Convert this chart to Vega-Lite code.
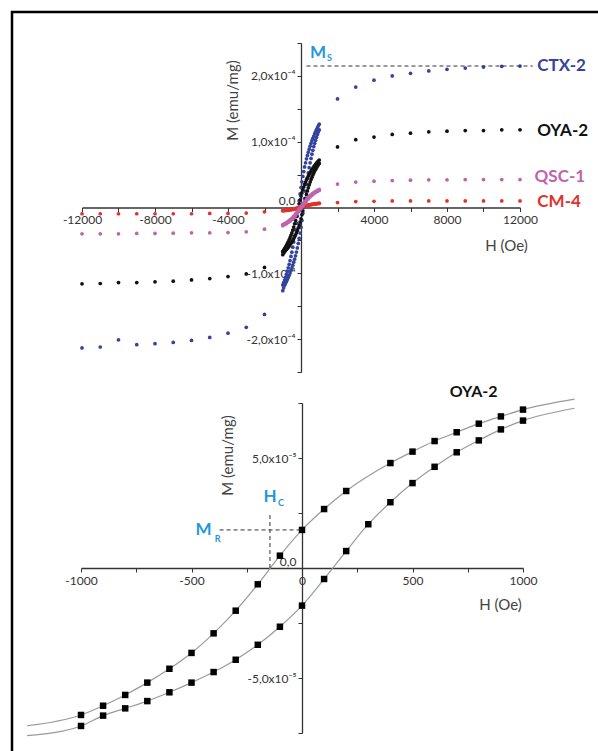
{
"$schema": "https://vega.github.io/schema/vega-lite/v6.json",
"width": 598, "height": 751,
"autosize": {"type": "fit", "contains": "padding"},
"padding": {"left": 12, "top": 12, "right": 0, "bottom": 0},
"background": "white",
"config": {
 "font": "Lato",
 "view": {"stroke": "#000", "strokeWidth": 2.5, "strokeDash": [586, 1325, 739]},
 "axis": {"grid": false, "domainColor": "#333", "domainWidth": 1.3, "tickColor": "#333", "tickWidth": 1, "tickSize": 4, "labelColor": "#333", "labelFontSize": 12, "labelPadding": 2, "titleColor": "#444", "titleFontSize": 15, "titleFontWeight": "normal", "labelFlush": false, "labelOverlap": false}
},
"datasets": {
 "top": [
  {"s":"CTX-2","h":-12000,"m":-2.135e-4},{"s":"CTX-2","h":-11000,"m":-2.12e-4},{"s":"CTX-2","h":-10000,"m":-2.01e-4},{"s":"CTX-2","h":-9000,"m":-2.085e-4},{"s":"CTX-2","h":-8000,"m":-2.07e-4},{"s":"CTX-2","h":-7000,"m":-2.05e-4},{"s":"CTX-2","h":-6000,"m":-2.02e-4},{"s":"CTX-2","h":-5000,"m":-1.975e-4},{"s":"CTX-2","h":-4000,"m":-1.91e-4},{"s":"CTX-2","h":-3000,"m":-1.82e-4},{"s":"CTX-2","h":-2000,"m":-1.625e-4},
  {"s":"CTX-2","h":2000,"m":1.65e-4},{"s":"CTX-2","h":3000,"m":1.83e-4},{"s":"CTX-2","h":4000,"m":1.935e-4},{"s":"CTX-2","h":5000,"m":2.0e-4},{"s":"CTX-2","h":6000,"m":2.04e-4},{"s":"CTX-2","h":7000,"m":2.075e-4},{"s":"CTX-2","h":8000,"m":2.1e-4},{"s":"CTX-2","h":9000,"m":2.12e-4},{"s":"CTX-2","h":10000,"m":2.135e-4},{"s":"CTX-2","h":11000,"m":2.145e-4},{"s":"CTX-2","h":12000,"m":2.15e-4},
  {"s":"CTX-2","h":-1000,"m":-1.176e-4},{"s":"CTX-2","h":-950,"m":-1.14e-4},{"s":"CTX-2","h":-900,"m":-1.102e-4},{"s":"CTX-2","h":-850,"m":-1.061e-4},{"s":"CTX-2","h":-800,"m":-1.016e-4},{"s":"CTX-2","h":-750,"m":-0.968e-4},{"s":"CTX-2","h":-700,"m":-0.917e-4},{"s":"CTX-2","h":-650,"m":-0.864e-4},{"s":"CTX-2","h":-600,"m":-0.806e-4},{"s":"CTX-2","h":-550,"m":-0.744e-4},{"s":"CTX-2","h":-500,"m":-0.679e-4},{"s":"CTX-2","h":-450,"m":-0.604e-4},{"s":"CTX-2","h":-400,"m":-0.523e-4},{"s":"CTX-2","h":-350,"m":-0.435e-4},{"s":"CTX-2","h":-300,"m":-0.341e-4},{"s":"CTX-2","h":-250,"m":-0.239e-4},{"s":"CTX-2","h":-200,"m":-0.13e-4},{"s":"CTX-2","h":-150,"m":-0.018e-4},{"s":"CTX-2","h":-100,"m":0.099e-4},{"s":"CTX-2","h":-50,"m":0.206e-4},{"s":"CTX-2","h":0,"m":0.304e-4},{"s":"CTX-2","h":50,"m":0.391e-4},{"s":"CTX-2","h":100,"m":0.472e-4},{"s":"CTX-2","h":150,"m":0.546e-4},{"s":"CTX-2","h":200,"m":0.616e-4},{"s":"CTX-2","h":250,"m":0.679e-4},{"s":"CTX-2","h":300,"m":0.739e-4},{"s":"CTX-2","h":350,"m":0.792e-4},{"s":"CTX-2","h":400,"m":0.84e-4},{"s":"CTX-2","h":450,"m":0.887e-4},{"s":"CTX-2","h":500,"m":0.931e-4},{"s":"CTX-2","h":550,"m":0.975e-4},{"s":"CTX-2","h":600,"m":1.016e-4},{"s":"CTX-2","h":650,"m":1.052e-4},{"s":"CTX-2","h":700,"m":1.086e-4},{"s":"CTX-2","h":750,"m":1.121e-4},{"s":"CTX-2","h":800,"m":1.155e-4},{"s":"CTX-2","h":850,"m":1.184e-4},{"s":"CTX-2","h":900,"m":1.213e-4},{"s":"CTX-2","h":950,"m":1.241e-4},{"s":"CTX-2","h":1000,"m":1.267e-4},
  {"s":"CTX-2","h":-1000,"m":-1.264e-4},{"s":"CTX-2","h":-950,"m":-1.22e-4},{"s":"CTX-2","h":-900,"m":-1.181e-4},{"s":"CTX-2","h":-850,"m":-1.153e-4},{"s":"CTX-2","h":-800,"m":-1.123e-4},{"s":"CTX-2","h":-750,"m":-1.095e-4},{"s":"CTX-2","h":-700,"m":-1.065e-4},{"s":"CTX-2","h":-650,"m":-1.031e-4},{"s":"CTX-2","h":-600,"m":-0.994e-4},{"s":"CTX-2","h":-550,"m":-0.957e-4},{"s":"CTX-2","h":-500,"m":-0.917e-4},{"s":"CTX-2","h":-450,"m":-0.876e-4},{"s":"CTX-2","h":-400,"m":-0.832e-4},{"s":"CTX-2","h":-350,"m":-0.785e-4},{"s":"CTX-2","h":-300,"m":-0.734e-4},{"s":"CTX-2","h":-250,"m":-0.678e-4},{"s":"CTX-2","h":-200,"m":-0.614e-4},{"s":"CTX-2","h":-150,"m":-0.546e-4},{"s":"CTX-2","h":-100,"m":-0.47e-4},{"s":"CTX-2","h":-50,"m":-0.389e-4},{"s":"CTX-2","h":0,"m":-0.301e-4},{"s":"CTX-2","h":50,"m":-0.197e-4},{"s":"CTX-2","h":100,"m":-0.088e-4},{"s":"CTX-2","h":150,"m":0.023e-4},{"s":"CTX-2","h":200,"m":0.136e-4},{"s":"CTX-2","h":250,"m":0.246e-4},{"s":"CTX-2","h":300,"m":0.35e-4},{"s":"CTX-2","h":350,"m":0.444e-4},{"s":"CTX-2","h":400,"m":0.526e-4},{"s":"CTX-2","h":450,"m":0.605e-4},{"s":"CTX-2","h":500,"m":0.679e-4},{"s":"CTX-2","h":550,"m":0.746e-4},{"s":"CTX-2","h":600,"m":0.81e-4},{"s":"CTX-2","h":650,"m":0.869e-4},{"s":"CTX-2","h":700,"m":0.926e-4},{"s":"CTX-2","h":750,"m":0.975e-4},{"s":"CTX-2","h":800,"m":1.021e-4},{"s":"CTX-2","h":850,"m":1.067e-4},{"s":"CTX-2","h":900,"m":1.109e-4},{"s":"CTX-2","h":950,"m":1.146e-4},{"s":"CTX-2","h":1000,"m":1.179e-4},
  {"s":"OYA-2","h":-12000,"m":-1.16e-4},{"s":"OYA-2","h":-11000,"m":-1.155e-4},{"s":"OYA-2","h":-10000,"m":-1.14e-4},{"s":"OYA-2","h":-9000,"m":-1.14e-4},{"s":"OYA-2","h":-8000,"m":-1.13e-4},{"s":"OYA-2","h":-7000,"m":-1.12e-4},{"s":"OYA-2","h":-6000,"m":-1.1e-4},{"s":"OYA-2","h":-5000,"m":-1.08e-4},{"s":"OYA-2","h":-4000,"m":-1.05e-4},{"s":"OYA-2","h":-3000,"m":-1.01e-4},{"s":"OYA-2","h":-2000,"m":-0.91e-4},
  {"s":"OYA-2","h":2000,"m":0.92e-4},{"s":"OYA-2","h":3000,"m":1.03e-4},{"s":"OYA-2","h":4000,"m":1.07e-4},{"s":"OYA-2","h":5000,"m":1.11e-4},{"s":"OYA-2","h":6000,"m":1.13e-4},{"s":"OYA-2","h":7000,"m":1.15e-4},{"s":"OYA-2","h":8000,"m":1.16e-4},{"s":"OYA-2","h":9000,"m":1.17e-4},{"s":"OYA-2","h":10000,"m":1.17e-4},{"s":"OYA-2","h":11000,"m":1.18e-4},{"s":"OYA-2","h":12000,"m":1.18e-4},
  {"s":"OYA-2","h":-1000,"m":-6.68e-5},{"s":"OYA-2","h":-950,"m":-6.48e-5},{"s":"OYA-2","h":-900,"m":-6.26e-5},{"s":"OYA-2","h":-850,"m":-6.03e-5},{"s":"OYA-2","h":-800,"m":-5.77e-5},{"s":"OYA-2","h":-750,"m":-5.5e-5},{"s":"OYA-2","h":-700,"m":-5.21e-5},{"s":"OYA-2","h":-650,"m":-4.91e-5},{"s":"OYA-2","h":-600,"m":-4.58e-5},{"s":"OYA-2","h":-550,"m":-4.23e-5},{"s":"OYA-2","h":-500,"m":-3.86e-5},{"s":"OYA-2","h":-450,"m":-3.43e-5},{"s":"OYA-2","h":-400,"m":-2.97e-5},{"s":"OYA-2","h":-350,"m":-2.47e-5},{"s":"OYA-2","h":-300,"m":-1.94e-5},{"s":"OYA-2","h":-250,"m":-1.36e-5},{"s":"OYA-2","h":-200,"m":-0.74e-5},{"s":"OYA-2","h":-150,"m":-0.1e-5},{"s":"OYA-2","h":-100,"m":0.56e-5},{"s":"OYA-2","h":-50,"m":1.17e-5},{"s":"OYA-2","h":0,"m":1.73e-5},{"s":"OYA-2","h":50,"m":2.22e-5},{"s":"OYA-2","h":100,"m":2.68e-5},{"s":"OYA-2","h":150,"m":3.1e-5},{"s":"OYA-2","h":200,"m":3.5e-5},{"s":"OYA-2","h":250,"m":3.86e-5},{"s":"OYA-2","h":300,"m":4.2e-5},{"s":"OYA-2","h":350,"m":4.5e-5},{"s":"OYA-2","h":400,"m":4.77e-5},{"s":"OYA-2","h":450,"m":5.04e-5},{"s":"OYA-2","h":500,"m":5.29e-5},{"s":"OYA-2","h":550,"m":5.54e-5},{"s":"OYA-2","h":600,"m":5.77e-5},{"s":"OYA-2","h":650,"m":5.98e-5},{"s":"OYA-2","h":700,"m":6.17e-5},{"s":"OYA-2","h":750,"m":6.37e-5},{"s":"OYA-2","h":800,"m":6.56e-5},{"s":"OYA-2","h":850,"m":6.73e-5},{"s":"OYA-2","h":900,"m":6.89e-5},{"s":"OYA-2","h":950,"m":7.05e-5},{"s":"OYA-2","h":1000,"m":7.2e-5},
  {"s":"OYA-2","h":-1000,"m":-7.18e-5},{"s":"OYA-2","h":-950,"m":-6.93e-5},{"s":"OYA-2","h":-900,"m":-6.71e-5},{"s":"OYA-2","h":-850,"m":-6.55e-5},{"s":"OYA-2","h":-800,"m":-6.38e-5},{"s":"OYA-2","h":-750,"m":-6.22e-5},{"s":"OYA-2","h":-700,"m":-6.05e-5},{"s":"OYA-2","h":-650,"m":-5.86e-5},{"s":"OYA-2","h":-600,"m":-5.65e-5},{"s":"OYA-2","h":-550,"m":-5.44e-5},{"s":"OYA-2","h":-500,"m":-5.21e-5},{"s":"OYA-2","h":-450,"m":-4.98e-5},{"s":"OYA-2","h":-400,"m":-4.73e-5},{"s":"OYA-2","h":-350,"m":-4.46e-5},{"s":"OYA-2","h":-300,"m":-4.17e-5},{"s":"OYA-2","h":-250,"m":-3.85e-5},{"s":"OYA-2","h":-200,"m":-3.49e-5},{"s":"OYA-2","h":-150,"m":-3.1e-5},{"s":"OYA-2","h":-100,"m":-2.67e-5},{"s":"OYA-2","h":-50,"m":-2.21e-5},{"s":"OYA-2","h":0,"m":-1.71e-5},{"s":"OYA-2","h":50,"m":-1.12e-5},{"s":"OYA-2","h":100,"m":-0.5e-5},{"s":"OYA-2","h":150,"m":0.13e-5},{"s":"OYA-2","h":200,"m":0.77e-5},{"s":"OYA-2","h":250,"m":1.4e-5},{"s":"OYA-2","h":300,"m":1.99e-5},{"s":"OYA-2","h":350,"m":2.52e-5},{"s":"OYA-2","h":400,"m":2.99e-5},{"s":"OYA-2","h":450,"m":3.44e-5},{"s":"OYA-2","h":500,"m":3.86e-5},{"s":"OYA-2","h":550,"m":4.24e-5},{"s":"OYA-2","h":600,"m":4.6e-5},{"s":"OYA-2","h":650,"m":4.94e-5},{"s":"OYA-2","h":700,"m":5.26e-5},{"s":"OYA-2","h":750,"m":5.54e-5},{"s":"OYA-2","h":800,"m":5.8e-5},{"s":"OYA-2","h":850,"m":6.06e-5},{"s":"OYA-2","h":900,"m":6.3e-5},{"s":"OYA-2","h":950,"m":6.51e-5},{"s":"OYA-2","h":1000,"m":6.7e-5},
  {"s":"CM-4","h":-12000,"m":-0.095e-4},{"s":"CM-4","h":-11000,"m":-0.095e-4},{"s":"CM-4","h":-10000,"m":-0.095e-4},{"s":"CM-4","h":-9000,"m":-0.095e-4},{"s":"CM-4","h":-8000,"m":-0.095e-4},{"s":"CM-4","h":-7000,"m":-0.095e-4},{"s":"CM-4","h":-6000,"m":-0.095e-4},{"s":"CM-4","h":-5000,"m":-0.09e-4},{"s":"CM-4","h":-4000,"m":-0.09e-4},{"s":"CM-4","h":-3000,"m":-0.085e-4},{"s":"CM-4","h":-2000,"m":-0.065e-4},
  {"s":"CM-4","h":2000,"m":0.075e-4},{"s":"CM-4","h":3000,"m":0.09e-4},{"s":"CM-4","h":4000,"m":0.095e-4},{"s":"CM-4","h":5000,"m":0.1e-4},{"s":"CM-4","h":6000,"m":0.1e-4},{"s":"CM-4","h":7000,"m":0.1e-4},{"s":"CM-4","h":8000,"m":0.1e-4},{"s":"CM-4","h":9000,"m":0.1e-4},{"s":"CM-4","h":10000,"m":0.1e-4},{"s":"CM-4","h":11000,"m":0.1e-4},{"s":"CM-4","h":12000,"m":0.1e-4},
  {"s":"CM-4","h":-1000,"m":-0.045e-4},{"s":"CM-4","h":-900,"m":-0.043e-4},{"s":"CM-4","h":-800,"m":-0.04e-4},{"s":"CM-4","h":-700,"m":-0.037e-4},{"s":"CM-4","h":-600,"m":-0.033e-4},{"s":"CM-4","h":-500,"m":-0.028e-4},{"s":"CM-4","h":-400,"m":-0.022e-4},{"s":"CM-4","h":-300,"m":-0.014e-4},{"s":"CM-4","h":-200,"m":-0.005e-4},{"s":"CM-4","h":-100,"m":0.004e-4},{"s":"CM-4","h":0,"m":0.012e-4},{"s":"CM-4","h":100,"m":0.02e-4},{"s":"CM-4","h":200,"m":0.028e-4},{"s":"CM-4","h":300,"m":0.034e-4},{"s":"CM-4","h":400,"m":0.04e-4},{"s":"CM-4","h":500,"m":0.045e-4},{"s":"CM-4","h":600,"m":0.05e-4},{"s":"CM-4","h":700,"m":0.054e-4},{"s":"CM-4","h":800,"m":0.058e-4},{"s":"CM-4","h":900,"m":0.062e-4},{"s":"CM-4","h":1000,"m":0.065e-4},
  {"s":"CM-4","h":-1000,"m":-0.05e-4},{"s":"CM-4","h":-900,"m":-0.048e-4},{"s":"CM-4","h":-800,"m":-0.045e-4},{"s":"CM-4","h":-700,"m":-0.042e-4},{"s":"CM-4","h":-600,"m":-0.038e-4},{"s":"CM-4","h":-500,"m":-0.034e-4},{"s":"CM-4","h":-400,"m":-0.028e-4},{"s":"CM-4","h":-300,"m":-0.021e-4},{"s":"CM-4","h":-200,"m":-0.013e-4},{"s":"CM-4","h":-100,"m":-0.004e-4},{"s":"CM-4","h":0,"m":0.005e-4},{"s":"CM-4","h":100,"m":0.013e-4},{"s":"CM-4","h":200,"m":0.021e-4},{"s":"CM-4","h":300,"m":0.028e-4},{"s":"CM-4","h":400,"m":0.034e-4},{"s":"CM-4","h":500,"m":0.039e-4},{"s":"CM-4","h":600,"m":0.044e-4},{"s":"CM-4","h":700,"m":0.049e-4},{"s":"CM-4","h":800,"m":0.053e-4},{"s":"CM-4","h":900,"m":0.057e-4},{"s":"CM-4","h":1000,"m":0.06e-4},
  {"s":"QSC-1","h":-12000,"m":-0.4e-4},{"s":"QSC-1","h":-11000,"m":-0.4e-4},{"s":"QSC-1","h":-10000,"m":-0.4e-4},{"s":"QSC-1","h":-9000,"m":-0.395e-4},{"s":"QSC-1","h":-8000,"m":-0.395e-4},{"s":"QSC-1","h":-7000,"m":-0.39e-4},{"s":"QSC-1","h":-6000,"m":-0.385e-4},{"s":"QSC-1","h":-5000,"m":-0.385e-4},{"s":"QSC-1","h":-4000,"m":-0.38e-4},{"s":"QSC-1","h":-3000,"m":-0.37e-4},{"s":"QSC-1","h":-2000,"m":-0.33e-4},
  {"s":"QSC-1","h":2000,"m":0.356e-4},{"s":"QSC-1","h":3000,"m":0.386e-4},{"s":"QSC-1","h":4000,"m":0.4e-4},{"s":"QSC-1","h":5000,"m":0.41e-4},{"s":"QSC-1","h":6000,"m":0.416e-4},{"s":"QSC-1","h":7000,"m":0.42e-4},{"s":"QSC-1","h":8000,"m":0.42e-4},{"s":"QSC-1","h":9000,"m":0.425e-4},{"s":"QSC-1","h":10000,"m":0.425e-4},{"s":"QSC-1","h":11000,"m":0.425e-4},{"s":"QSC-1","h":12000,"m":0.425e-4},
  {"s":"QSC-1","h":-1000,"m":-0.26e-4},{"s":"QSC-1","h":-900,"m":-0.245e-4},{"s":"QSC-1","h":-800,"m":-0.228e-4},{"s":"QSC-1","h":-700,"m":-0.208e-4},{"s":"QSC-1","h":-600,"m":-0.186e-4},{"s":"QSC-1","h":-500,"m":-0.16e-4},{"s":"QSC-1","h":-400,"m":-0.13e-4},{"s":"QSC-1","h":-300,"m":-0.097e-4},{"s":"QSC-1","h":-200,"m":-0.06e-4},{"s":"QSC-1","h":-100,"m":-0.02e-4},{"s":"QSC-1","h":0,"m":0.02e-4},{"s":"QSC-1","h":100,"m":0.058e-4},{"s":"QSC-1","h":200,"m":0.095e-4},{"s":"QSC-1","h":300,"m":0.128e-4},{"s":"QSC-1","h":400,"m":0.158e-4},{"s":"QSC-1","h":500,"m":0.185e-4},{"s":"QSC-1","h":600,"m":0.208e-4},{"s":"QSC-1","h":700,"m":0.228e-4},{"s":"QSC-1","h":800,"m":0.246e-4},{"s":"QSC-1","h":900,"m":0.262e-4},{"s":"QSC-1","h":1000,"m":0.276e-4},
  {"s":"QSC-1","h":-1000,"m":-0.276e-4},{"s":"QSC-1","h":-900,"m":-0.262e-4},{"s":"QSC-1","h":-800,"m":-0.246e-4},{"s":"QSC-1","h":-700,"m":-0.228e-4},{"s":"QSC-1","h":-600,"m":-0.208e-4},{"s":"QSC-1","h":-500,"m":-0.185e-4},{"s":"QSC-1","h":-400,"m":-0.158e-4},{"s":"QSC-1","h":-300,"m":-0.128e-4},{"s":"QSC-1","h":-200,"m":-0.095e-4},{"s":"QSC-1","h":-100,"m":-0.058e-4},{"s":"QSC-1","h":0,"m":-0.02e-4},{"s":"QSC-1","h":100,"m":0.02e-4},{"s":"QSC-1","h":200,"m":0.06e-4},{"s":"QSC-1","h":300,"m":0.097e-4},{"s":"QSC-1","h":400,"m":0.13e-4},{"s":"QSC-1","h":500,"m":0.16e-4},{"s":"QSC-1","h":600,"m":0.186e-4},{"s":"QSC-1","h":700,"m":0.208e-4},{"s":"QSC-1","h":800,"m":0.228e-4},{"s":"QSC-1","h":900,"m":0.245e-4},{"s":"QSC-1","h":1000,"m":0.26e-4}
 ],
 "topLabels": [
  {"s":"CTX-2","h":12950,"m":2.15e-4},{"s":"OYA-2","h":12950,"m":1.17e-4},{"s":"QSC-1","h":12800,"m":0.47e-4},{"s":"CM-4","h":12950,"m":0.09e-4}
 ],
 "msLine": [{"h":300,"h2":12700,"m":2.15e-4}],
 "topBig": [{"t":"M","h":932,"m":2.353e-4}],
 "topSub": [{"t":"S","h":1562,"m":2.278e-4}],
 "loop": [
  {"b":"A","kind":"curve end","h":-1244,"m":-7.17e-5},
  {"b":"A","kind":"measured","h":-1000,"m":-6.68e-5},{"b":"A","kind":"measured","h":-900,"m":-6.26e-5},{"b":"A","kind":"measured","h":-800,"m":-5.77e-5},{"b":"A","kind":"measured","h":-700,"m":-5.21e-5},{"b":"A","kind":"measured","h":-600,"m":-4.58e-5},{"b":"A","kind":"measured","h":-500,"m":-3.86e-5},{"b":"A","kind":"measured","h":-400,"m":-2.97e-5},{"b":"A","kind":"measured","h":-300,"m":-1.94e-5},{"b":"A","kind":"measured","h":-200,"m":-0.74e-5},{"b":"A","kind":"measured","h":-100,"m":0.56e-5},{"b":"A","kind":"measured","h":0,"m":1.73e-5},{"b":"A","kind":"measured","h":100,"m":2.68e-5},{"b":"A","kind":"measured","h":200,"m":3.5e-5},{"b":"A","kind":"measured","h":400,"m":4.77e-5},{"b":"A","kind":"measured","h":500,"m":5.29e-5},{"b":"A","kind":"measured","h":600,"m":5.77e-5},{"b":"A","kind":"measured","h":700,"m":6.17e-5},{"b":"A","kind":"measured","h":800,"m":6.56e-5},{"b":"A","kind":"measured","h":900,"m":6.89e-5},{"b":"A","kind":"measured","h":1000,"m":7.2e-5},
  {"b":"A","kind":"curve end","h":1233,"m":7.68e-5},
  {"b":"B","kind":"curve end","h":-1244,"m":-7.62e-5},
  {"b":"B","kind":"measured","h":-1000,"m":-7.18e-5},{"b":"B","kind":"measured","h":-900,"m":-6.71e-5},{"b":"B","kind":"measured","h":-800,"m":-6.38e-5},{"b":"B","kind":"measured","h":-700,"m":-6.05e-5},{"b":"B","kind":"measured","h":-600,"m":-5.65e-5},{"b":"B","kind":"measured","h":-500,"m":-5.21e-5},{"b":"B","kind":"measured","h":-400,"m":-4.73e-5},{"b":"B","kind":"measured","h":-300,"m":-4.17e-5},{"b":"B","kind":"measured","h":-200,"m":-3.49e-5},{"b":"B","kind":"measured","h":-100,"m":-2.67e-5},{"b":"B","kind":"measured","h":0,"m":-1.71e-5},{"b":"B","kind":"measured","h":100,"m":-0.5e-5},{"b":"B","kind":"measured","h":200,"m":0.77e-5},{"b":"B","kind":"measured","h":300,"m":1.99e-5},{"b":"B","kind":"measured","h":400,"m":2.99e-5},{"b":"B","kind":"measured","h":500,"m":3.86e-5},{"b":"B","kind":"measured","h":600,"m":4.6e-5},{"b":"B","kind":"measured","h":700,"m":5.26e-5},{"b":"B","kind":"measured","h":800,"m":5.8e-5},{"b":"B","kind":"measured","h":900,"m":6.3e-5},{"b":"B","kind":"measured","h":1000,"m":6.7e-5},
  {"b":"B","kind":"curve end","h":1233,"m":7.26e-5}
 ],
 "guides": [{"h":-373,"m":1.73e-5,"h2":0,"m2":1.73e-5},{"h":-145,"m":0,"h2":-145,"m2":2.41e-5}],
 "botBig": [{"t":"M","h":-445,"m":1.73e-5},{"t":"H","h":-145,"m":3.23e-5}],
 "botSub": [{"t":"R","h":-382,"m":1.32e-5},{"t":"C","h":-95,"m":2.95e-5}],
 "botTitle": [{"t":"OYA-2","h":777,"m":8.0e-5}]
},
"layer": [
 {
  "layer": [
   {
    "data": {"name": "top"},
    "mark": {"type": "circle", "size": 14, "opacity": 1, "clip": false},
    "encoding": {
     "x": {"field": "h", "type": "quantitative", "scale": {"domain": [-12000, 12000], "range": [70, 508], "nice": false, "zero": false},
      "axis": {"orient": "bottom", "offset": -543.5, "values": [-12000,-10000,-8000,-6000,-4000,-2000,0,2000,4000,6000,8000,10000,12000],
       "labelExpr": "datum.value % 4000 == 0 && datum.value != 0 ? (datum.value < 0 ? '-' : '') + abs(datum.value) : ''",
       "title": "H (Oe)", "titleX": 494, "titleY": 38, "titleAlign": "center", "titleBaseline": "middle", "titleAngle": 0, "labelPadding": 3}},
     "y": {"field": "m", "type": "quantitative", "scale": {"domain": [-2.5e-4, 2.5e-4], "range": [360, 31], "nice": false, "zero": false},
      "axis": {"orient": "left", "offset": -289, "values": [-2.5e-4,-2e-4,-1.5e-4,-1e-4,-5e-5,0,5e-5,1e-4,1.5e-4,2e-4,2.5e-4],
       "labelExpr": "round(datum.value*1e5) % 10 != 0 ? '' : (round(datum.value*1e5) == 0 ? '0,0' : (datum.value < 0 ? '-' : '') + abs(round(datum.value*1e4)) + ',0x10⁻⁴')",
       "labelBaseline": {"condition": {"test": "datum.value == 0", "value": "bottom"}, "value": "middle"},
       "title": "M (emu/mg)", "titleX": -64, "titleY": 88, "titleAngle": -90, "titleAlign": "center", "titleBaseline": "alphabetic"}},
     "color": {"field": "s", "type": "nominal", "scale": {"domain": ["CTX-2","OYA-2","QSC-1","CM-4"], "range": ["#34449e","#111111","#c063ad","#e2302a"]}, "legend": null}
    }
   },
   {
    "data": {"name": "msLine"},
    "mark": {"type": "rule", "strokeDash": [4, 3], "color": "#333", "strokeWidth": 1, "clip": false},
    "encoding": {"x": {"field": "h", "type": "quantitative"}, "x2": {"field": "h2"}, "y": {"field": "m", "type": "quantitative"}}
   },
   {
    "data": {"name": "topLabels"},
    "mark": {"type": "text", "align": "left", "baseline": "middle", "fontWeight": "bold", "fontSize": 17, "clip": false},
    "encoding": {"x": {"field": "h", "type": "quantitative"}, "y": {"field": "m", "type": "quantitative"}, "text": {"field": "s"}, "color": {"field": "s", "type": "nominal", "legend": null}}
   },
   {
    "data": {"name": "topBig"},
    "mark": {"type": "text", "align": "center", "baseline": "middle", "fontWeight": "bold", "fontSize": 17, "color": "#1f98dc", "clip": false},
    "encoding": {"x": {"field": "h", "type": "quantitative"}, "y": {"field": "m", "type": "quantitative"}, "text": {"field": "t"}}
   },
   {
    "data": {"name": "topSub"},
    "mark": {"type": "text", "align": "center", "baseline": "middle", "fontWeight": "bold", "fontSize": 9, "color": "#1f98dc", "clip": false},
    "encoding": {"x": {"field": "h", "type": "quantitative"}, "y": {"field": "m", "type": "quantitative"}, "text": {"field": "t"}}
   }
  ]
 },
 {
  "layer": [
   {
    "data": {"name": "loop"},
    "mark": {"type": "line", "interpolate": "monotone", "color": "#9a9a9a", "strokeWidth": 1.2, "clip": false},
    "encoding": {
     "x": {"field": "h", "type": "quantitative", "scale": {"domain": [-1000, 1000], "range": [69, 511], "nice": false, "zero": false},
      "axis": {"orient": "bottom", "offset": -183, "values": [-1000,-750,-500,-250,0,250,500,750,1000],
       "labelExpr": "datum.value % 500 == 0 ? (datum.value < 0 ? '-' : '') + abs(datum.value) : ''",
       "title": "H (Oe)", "titleX": 488, "titleY": 36, "titleAlign": "center", "titleBaseline": "middle", "titleAngle": 0, "labelPadding": 3}},
     "y": {"field": "m", "type": "quantitative", "scale": {"domain": [-7.5e-5, 7.5e-5], "range": [721, 391], "nice": false, "zero": false},
      "axis": {"orient": "left", "offset": -290, "values": [-7.5e-5,-5e-5,-2.5e-5,0,2.5e-5,5e-5,7.5e-5],
       "labelExpr": "round(datum.value*1e6) % 50 != 0 ? '' : (round(datum.value*1e6) == 0 ? '0,0' : (datum.value < 0 ? '-' : '') + abs(round(datum.value*1e5)) + ',0x10⁻⁵')",
       "labelBaseline": {"condition": {"test": "datum.value == 0", "value": "bottom"}, "value": "middle"},
       "title": "M (emu/mg)", "titleX": -70, "titleY": 443, "titleAngle": -90, "titleAlign": "center", "titleBaseline": "alphabetic"}},
     "detail": {"field": "b"}
    }
   },
   {
    "data": {"name": "loop"},
    "transform": [{"filter": "datum.kind == 'measured'"}],
    "mark": {"type": "square", "size": 42, "color": "#000", "opacity": 1, "filled": true, "clip": false},
    "encoding": {"x": {"field": "h", "type": "quantitative"}, "y": {"field": "m", "type": "quantitative"}}
   },
   {
    "data": {"name": "guides"},
    "mark": {"type": "rule", "strokeDash": [4, 3], "color": "#333", "strokeWidth": 1, "clip": false},
    "encoding": {"x": {"field": "h", "type": "quantitative"}, "x2": {"field": "h2"}, "y": {"field": "m", "type": "quantitative"}, "y2": {"field": "m2"}}
   },
   {
    "data": {"name": "botBig"},
    "mark": {"type": "text", "align": "center", "baseline": "middle", "fontWeight": "bold", "fontSize": 17, "color": "#1f98dc", "clip": false},
    "encoding": {"x": {"field": "h", "type": "quantitative"}, "y": {"field": "m", "type": "quantitative"}, "text": {"field": "t"}}
   },
   {
    "data": {"name": "botSub"},
    "mark": {"type": "text", "align": "center", "baseline": "middle", "fontWeight": "bold", "fontSize": 9, "color": "#1f98dc", "clip": false},
    "encoding": {"x": {"field": "h", "type": "quantitative"}, "y": {"field": "m", "type": "quantitative"}, "text": {"field": "t"}}
   },
   {
    "data": {"name": "botTitle"},
    "mark": {"type": "text", "align": "center", "baseline": "middle", "fontWeight": "bold", "fontSize": 16, "color": "#111", "clip": false},
    "encoding": {"x": {"field": "h", "type": "quantitative"}, "y": {"field": "m", "type": "quantitative"}, "text": {"field": "t"}}
   }
  ]
 }
],
"resolve": {"scale": {"x": "independent", "y": "independent"}, "axis": {"x": "independent", "y": "independent"}}
}
